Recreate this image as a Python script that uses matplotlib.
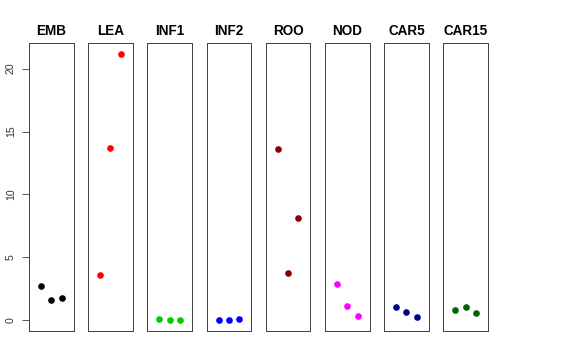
import numpy as np
import matplotlib
matplotlib.use("Agg")
import matplotlib.pyplot as plt

plt.rcParams["font.family"] = ["Liberation Sans", "DejaVu Sans"]

groups = ["EMB", "LEA", "INF1", "INF2", "ROO", "NOD", "CAR5", "CAR15"]
colors = ["black", "red", "#00CD00", "blue", "#8B0000", "magenta", "#00008B", "#006400"]
emb = [2.73, 1.64, 1.80]
lea = [3.63, 13.72, 21.19]
inf1 = [0.10, 0.0, 0.02]
inf2 = [0.0, 0.0, 0.08]
roo = [13.59, 3.73, 8.16]
nod = [2.86, 1.14, 0.34]
car5 = [1.06, 0.63, 0.24]
car15 = [0.82, 1.06, 0.56]
values = [emb, lea, inf1, inf2, roo, nod, car5, car15]
reps = [1, 2, 3]
yticks = [0, 5, 10, 15, 20]

fig = plt.figure(figsize=(8, 5), dpi=72)
W, H = 576, 360
left0, pitch, pw = 29, 59.2, 44.5
top, bottom = 43, 331

ymin, ymax = 0.0, 21.19
pad = 0.04 * (ymax - ymin)

for i, (g, c, v) in enumerate(zip(groups, colors, values)):
    x0 = left0 + i * pitch
    ax = fig.add_axes([x0 / W, 1 - bottom / H, pw / W, (bottom - top) / H])
    ax.scatter(reps, v, s=44, color=c, linewidths=0, zorder=3)
    ax.set_xlim(-0.16, 4.16)
    ax.set_ylim(ymin - pad, ymax + pad)
    ax.set_xticks([])
    for sp in ax.spines.values():
        sp.set_color("#444444")
        sp.set_linewidth(1)
    ax.set_title(g, fontsize=13.5, fontweight="bold", pad=8)
    if i == 0:
        ax.set_yticks(yticks)
        ax.set_yticklabels([str(t) for t in yticks], rotation=90, va="center", fontsize=10.5)
        ax.tick_params(axis="y", length=7, width=0.8, pad=6, colors="#333333", labelcolor="#333333")
    else:
        ax.set_yticks([])

fig.savefig("out.png", dpi=72)
